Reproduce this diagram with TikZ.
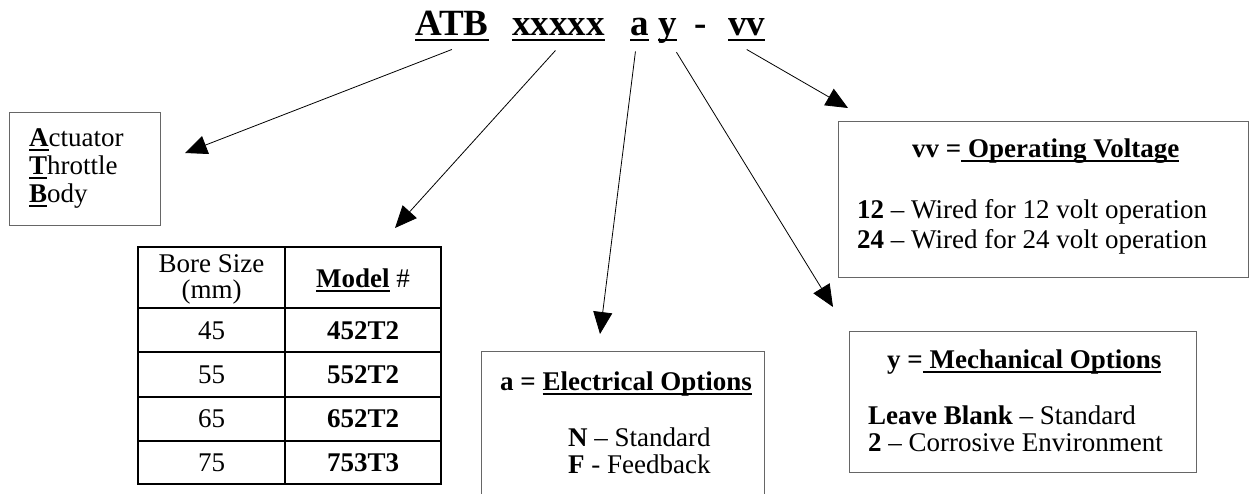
\documentclass[tikz,border=0pt]{standalone}
\usepackage{fontspec}
\setmainfont{Liberation Serif}
\usetikzlibrary{arrows.meta}
\newcommand{\myul}[1]{\leavevmode\setbox0=\hbox{#1}\rlap{\rule[-0.17em]{\wd0}{0.075em}}\box0\relax}
\begin{document}
\begin{tikzpicture}[x=1pt,y=-1pt,
  gbox/.style={draw=black!60, line width=1.2pt, inner sep=0pt, anchor=north west},
  tline/.style={draw=black, line width=1.8pt},
  txt/.style={inner sep=0pt, anchor=base west, font=\fontsize{27}{31}\selectfont},
  ctxt/.style={inner sep=0pt, anchor=base, font=\fontsize{27}{31}\selectfont},
  ttl/.style={inner sep=0pt, anchor=base west, font=\fontsize{37}{42}\selectfont\bfseries},
  arr/.style={-{Triangle[length=22pt,width=19pt]}, line width=0.8pt},
]
\useasboundingbox (0,0) rectangle (1249,493);
\clip (0,0) rectangle (1249,493);

% title
\node[ttl] (tatb) at (415,35) {\myul{ATB}};
\node[ttl] (tx) at (512,35) {\myul{xxxxx}};
\node[ttl] (ta) at (630,35) {\myul{a}};
\node[ttl] (ty) at (658,35) {\myul{y}};
\node[ttl] (td) at (694,35) {-};
\node[ttl] (tv) at (728,35) {\myul{vv}};

% boxes
\node[gbox, minimum width=151pt, minimum height=113pt] (atbbox) at (9,112) {};
\node[gbox, minimum width=283pt, minimum height=170pt] (elbox) at (481,351) {};
\node[gbox, minimum width=410pt, minimum height=156pt] (vbox) at (838,121) {};
\node[gbox, minimum width=347pt, minimum height=141pt] (mbox) at (849,331) {};

% arrow tips
\coordinate (tip1) at (185,153);
\coordinate (tip2) at (395,228);
\coordinate (tip3) at (600,334);
\coordinate (tip4) at (833,307);
\coordinate (tip5) at (848,108);
\draw[arr] ([yshift=-8pt]tatb.south) -- (tip1);
\draw[arr] ([xshift=-3pt,yshift=-9pt]tx.south) -- (tip2);
\draw[arr] ([xshift=-4pt,yshift=-10pt]ta.south) -- (tip3);
\draw[arr] ([xshift=9pt,yshift=-9pt]ty.south) -- (tip4);
\draw[arr] ([yshift=-8pt]tv.south) -- (tip5);

% ATB box text
\node[txt] (l1) at (29,146) {\myul{\textbf{A}}ctuator};
\node[txt] (l2) at (29,174) {\myul{\textbf{T}}hrottle};
\node[txt] (l3) at (29,202) {\myul{\textbf{B}}ody};

% table
\draw[tline] (138,247) rectangle (441,484);
\draw[tline] (285,247) -- (285,484);
\draw[tline] (138,308) -- (441,308);
\draw[tline] (138,352) -- (441,352);
\draw[tline] (138,397) -- (441,397);
\draw[tline] (138,441) -- (441,441);
\node[ctxt] (h1a) at (211.5,272) {Bore Size};
\node[ctxt] (h1b) at (211.5,298) {(mm)};
\node[ctxt] (h2) at (363,287) {\myul{\textbf{Model}} \#};
\node[ctxt] (r1a) at (211.5,339) {45};
\node[ctxt] (r1b) at (363,339) {\textbf{452T2}};
\node[ctxt] (r2a) at (211.5,383) {55};
\node[ctxt] (r2b) at (363,383) {\textbf{552T2}};
\node[ctxt] (r3a) at (211.5,427) {65};
\node[ctxt] (r3b) at (363,427) {\textbf{652T2}};
\node[ctxt] (r4a) at (211.5,471) {75};
\node[ctxt] (r4b) at (363,471) {\textbf{753T3}};

% electrical
\node[txt] (e0) at (500,390) {\textbf{a = \myul{Electrical Options}}};
\node[txt] (e1) at (568,446) {\textbf{N} – Standard};
\node[txt] (e2) at (568,473) {\textbf{F} - Feedback};

% voltage
\node[txt] (v0) at (912,157) {\textbf{vv =\myul{ Operating Voltage}}};
\node[txt] (v1) at (857,218) {\textbf{12} – Wired for 12 volt operation};
\node[txt] (v2) at (857,248) {\textbf{24} – Wired for 24 volt operation};

% mechanical
\node[txt] (m0) at (887,368) {\textbf{y =\myul{ Mechanical Options}}};
\node[txt] (m1) at (868,424) {\textbf{Leave Blank} – Standard};
\node[txt] (m2) at (868,451) {\textbf{2} – Corrosive Environment};
\end{tikzpicture}
\end{document}
